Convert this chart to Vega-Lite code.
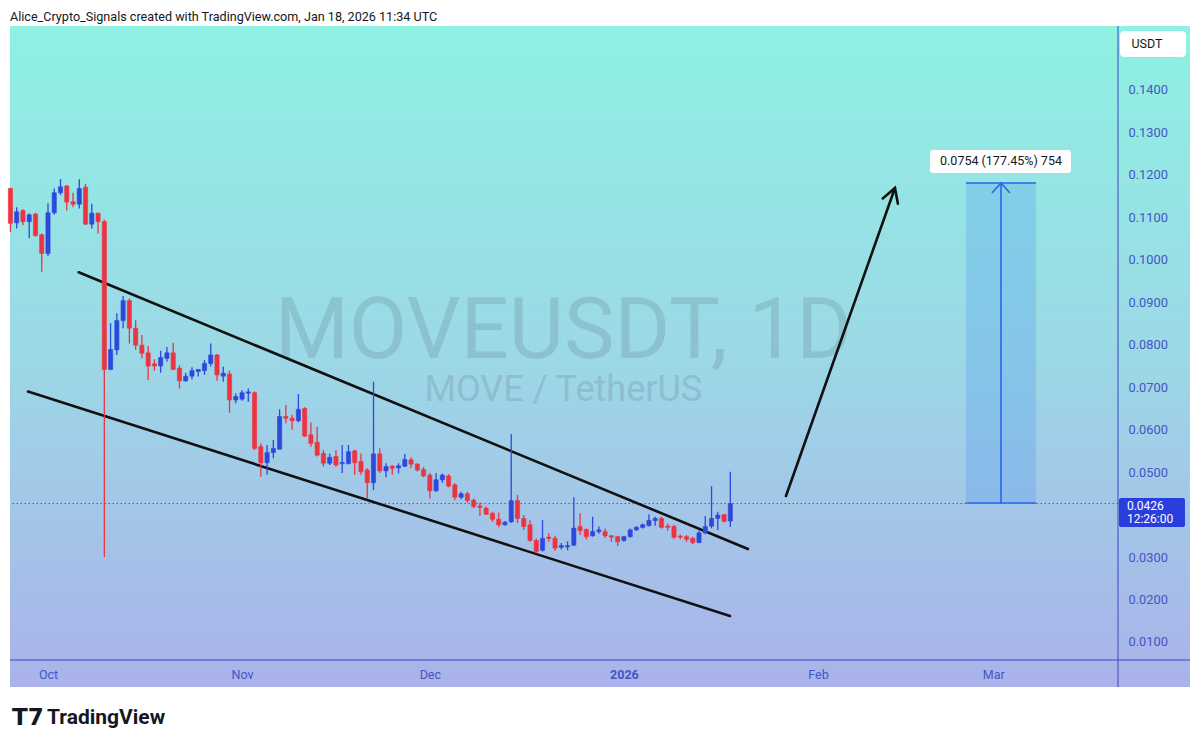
{
"$schema": "https://vega.github.io/schema/vega-lite/v6.json",
"width": 1108, "height": 634,
"autosize": {"type": "none"},
"padding": {"left": 10, "top": 26, "right": 82, "bottom": 87},
"background": "#ffffff",
"config": {"view": {"stroke": null}, "font": "Roboto"},
"datasets": {
"bg": [{"x1": "2025-09-24T22:20:00Z", "x2": "2026-04-01T10:20:00Z", "y1": 0.15507, "y2": -0.0006}],
"wm": [
 {"t": "2025-12-22T08:00:00Z", "p": 0.08300, "txt": "MOVEUSDT, 1D", "k": "a"},
 {"t": "2025-12-22T08:00:00Z", "p": 0.0694, "txt": "MOVE / TetherUS", "k": "b"}
],
"last": [{"p": 0.0426}],
"measbox": [{"x1": "2026-02-24T15:35:00Z", "x2": "2026-03-07T19:55:00Z", "y1": 0.1181, "y2": 0.04273}],
"measlines": [
 {"g": "top", "i": 0, "t": "2026-02-24T15:35:00Z", "p": 0.1181},
 {"g": "top", "i": 1, "t": "2026-03-07T19:55:00Z", "p": 0.1181},
 {"g": "bot", "i": 0, "t": "2026-02-24T15:35:00Z", "p": 0.04273},
 {"g": "bot", "i": 1, "t": "2026-03-07T19:55:00Z", "p": 0.04273},
 {"g": "vert", "i": 0, "t": "2026-03-02T05:45:00Z", "p": 0.04273},
 {"g": "vert", "i": 1, "t": "2026-03-02T05:45:00Z", "p": 0.1181},
 {"g": "head", "i": 0, "t": "2026-02-28T19:10:00Z", "p": 0.11574},
 {"g": "head", "i": 1, "t": "2026-03-02T05:45:00Z", "p": 0.1181},
 {"g": "head", "i": 2, "t": "2026-03-03T16:05:00Z", "p": 0.11574}
],
"measlabel": [{"x1": "2026-02-18T21:20:00Z", "x2": "2026-03-13T10:05:00Z", "y1": 0.12587, "y2": 0.12045, "t": "2026-03-02T05:45:00Z", "p": 0.12316, "txt": "0.0754 (177.45%) 754"}],
"drawings": [
 {"g": "upper", "i": 0, "t": "2025-10-05T21:40:00Z", "p": 0.09707},
 {"g": "upper", "i": 1, "t": "2026-01-20T19:40:00Z", "p": 0.0319},
 {"g": "lower", "i": 0, "t": "2025-09-27T19:25:00Z", "p": 0.06899},
 {"g": "lower", "i": 1, "t": "2026-01-17T22:50:00Z", "p": 0.01612},
 {"g": "arrow", "i": 0, "t": "2026-01-26T21:20:00Z", "p": 0.04438},
 {"g": "arrow", "i": 1, "t": "2026-02-13T07:10:00Z", "p": 0.11692},
 {"g": "arrowhead", "i": 0, "t": "2026-02-11T08:25:00Z", "p": 0.11447},
 {"g": "arrowhead", "i": 1, "t": "2026-02-13T07:10:00Z", "p": 0.11692},
 {"g": "arrowhead", "i": 2, "t": "2026-02-13T18:30:00Z", "p": 0.11322}
],
"candles": [
{"t":"2025-09-25","o":0.1168,"h":0.1170,"l":0.1066,"c":0.1086},
{"t":"2025-09-26","o":0.1087,"h":0.1124,"l":0.1074,"c":0.1113},
{"t":"2025-09-27","o":0.1116,"h":0.1119,"l":0.1082,"c":0.1090},
{"t":"2025-09-28","o":0.1090,"h":0.1110,"l":0.1051,"c":0.1106},
{"t":"2025-09-29","o":0.1108,"h":0.1111,"l":0.1055,"c":0.1057},
{"t":"2025-09-30","o":0.1059,"h":0.1062,"l":0.0972,"c":0.1015},
{"t":"2025-10-01","o":0.1015,"h":0.1133,"l":0.1009,"c":0.1111},
{"t":"2025-10-02","o":0.1111,"h":0.1168,"l":0.1106,"c":0.1158},
{"t":"2025-10-03","o":0.1158,"h":0.1190,"l":0.1153,"c":0.1172},
{"t":"2025-10-04","o":0.1174,"h":0.1176,"l":0.1116,"c":0.1136},
{"t":"2025-10-05","o":0.1137,"h":0.1158,"l":0.1124,"c":0.1131},
{"t":"2025-10-06","o":0.1131,"h":0.1190,"l":0.1121,"c":0.1168},
{"t":"2025-10-07","o":0.1171,"h":0.1179,"l":0.1082,"c":0.1084},
{"t":"2025-10-08","o":0.1084,"h":0.1132,"l":0.1074,"c":0.1110},
{"t":"2025-10-09","o":0.1110,"h":0.1111,"l":0.1062,"c":0.1090},
{"t":"2025-10-10","o":0.1090,"h":0.1095,"l":0.0300,"c":0.0742},
{"t":"2025-10-11","o":0.0742,"h":0.0851,"l":0.0740,"c":0.0789},
{"t":"2025-10-12","o":0.0788,"h":0.0874,"l":0.0776,"c":0.0857},
{"t":"2025-10-13","o":0.0857,"h":0.0915,"l":0.0839,"c":0.0904},
{"t":"2025-10-14","o":0.0904,"h":0.0909,"l":0.0803,"c":0.0839},
{"t":"2025-10-15","o":0.0839,"h":0.0858,"l":0.0788,"c":0.0799},
{"t":"2025-10-16","o":0.0799,"h":0.0823,"l":0.0768,"c":0.0780},
{"t":"2025-10-17","o":0.0781,"h":0.0797,"l":0.0717,"c":0.0750},
{"t":"2025-10-18","o":0.0755,"h":0.0766,"l":0.0739,"c":0.0750},
{"t":"2025-10-19","o":0.0750,"h":0.0786,"l":0.0734,"c":0.0770},
{"t":"2025-10-20","o":0.0768,"h":0.0795,"l":0.0760,"c":0.0781},
{"t":"2025-10-21","o":0.0781,"h":0.0805,"l":0.0740,"c":0.0742},
{"t":"2025-10-22","o":0.0745,"h":0.0752,"l":0.0697,"c":0.0715},
{"t":"2025-10-23","o":0.0715,"h":0.0734,"l":0.0713,"c":0.0726},
{"t":"2025-10-24","o":0.0726,"h":0.0747,"l":0.0719,"c":0.0739},
{"t":"2025-10-25","o":0.0737,"h":0.0742,"l":0.0725,"c":0.0742},
{"t":"2025-10-26","o":0.0739,"h":0.0764,"l":0.0729,"c":0.0756},
{"t":"2025-10-27","o":0.0756,"h":0.0803,"l":0.0749,"c":0.0776},
{"t":"2025-10-28","o":0.0776,"h":0.0778,"l":0.0715,"c":0.0729},
{"t":"2025-10-29","o":0.0726,"h":0.0748,"l":0.0713,"c":0.0733},
{"t":"2025-10-30","o":0.0731,"h":0.0739,"l":0.0640,"c":0.0670},
{"t":"2025-10-31","o":0.0670,"h":0.0686,"l":0.0662,"c":0.0678},
{"t":"2025-11-01","o":0.0672,"h":0.0693,"l":0.0668,"c":0.0687},
{"t":"2025-11-02","o":0.0686,"h":0.0697,"l":0.0666,"c":0.0689},
{"t":"2025-11-03","o":0.0687,"h":0.0690,"l":0.0552,"c":0.0556},
{"t":"2025-11-04","o":0.0560,"h":0.0568,"l":0.0489,"c":0.0522},
{"t":"2025-11-05","o":0.0522,"h":0.0564,"l":0.0494,"c":0.0546},
{"t":"2025-11-06","o":0.0546,"h":0.0576,"l":0.0533,"c":0.0556},
{"t":"2025-11-07","o":0.0554,"h":0.0648,"l":0.0554,"c":0.0631},
{"t":"2025-11-08","o":0.0631,"h":0.0658,"l":0.0615,"c":0.0627},
{"t":"2025-11-09","o":0.0627,"h":0.0635,"l":0.0600,"c":0.0621},
{"t":"2025-11-10","o":0.0621,"h":0.0684,"l":0.0617,"c":0.0648},
{"t":"2025-11-11","o":0.0650,"h":0.0653,"l":0.0583,"c":0.0585},
{"t":"2025-11-12","o":0.0588,"h":0.0617,"l":0.0560,"c":0.0568},
{"t":"2025-11-13","o":0.0570,"h":0.0607,"l":0.0537,"c":0.0540},
{"t":"2025-11-14","o":0.0544,"h":0.0552,"l":0.0513,"c":0.0521},
{"t":"2025-11-15","o":0.0521,"h":0.0544,"l":0.0517,"c":0.0535},
{"t":"2025-11-16","o":0.0537,"h":0.0552,"l":0.0513,"c":0.0517},
{"t":"2025-11-17","o":0.0520,"h":0.0564,"l":0.0498,"c":0.0523},
{"t":"2025-11-18","o":0.0520,"h":0.0564,"l":0.0518,"c":0.0548},
{"t":"2025-11-19","o":0.0550,"h":0.0553,"l":0.0494,"c":0.0522},
{"t":"2025-11-20","o":0.0525,"h":0.0544,"l":0.0494,"c":0.0501},
{"t":"2025-11-21","o":0.0505,"h":0.0509,"l":0.0438,"c":0.0475},
{"t":"2025-11-22","o":0.0475,"h":0.0713,"l":0.0458,"c":0.0543},
{"t":"2025-11-23","o":0.0543,"h":0.0556,"l":0.0498,"c":0.0503},
{"t":"2025-11-24","o":0.0503,"h":0.0521,"l":0.0488,"c":0.0513},
{"t":"2025-11-25","o":0.0514,"h":0.0517,"l":0.0494,"c":0.0509},
{"t":"2025-11-26","o":0.0510,"h":0.0521,"l":0.0497,"c":0.0515},
{"t":"2025-11-27","o":0.0514,"h":0.0543,"l":0.0512,"c":0.0530},
{"t":"2025-11-28","o":0.0529,"h":0.0535,"l":0.0509,"c":0.0519},
{"t":"2025-11-29","o":0.0519,"h":0.0521,"l":0.0501,"c":0.0505},
{"t":"2025-11-30","o":0.0506,"h":0.0512,"l":0.0488,"c":0.0491},
{"t":"2025-12-01","o":0.0493,"h":0.0498,"l":0.0438,"c":0.0456},
{"t":"2025-12-02","o":0.0456,"h":0.0498,"l":0.0454,"c":0.0482},
{"t":"2025-12-03","o":0.0482,"h":0.0497,"l":0.0475,"c":0.0493},
{"t":"2025-12-04","o":0.0491,"h":0.0495,"l":0.0464,"c":0.0467},
{"t":"2025-12-05","o":0.0470,"h":0.0474,"l":0.0434,"c":0.0441},
{"t":"2025-12-06","o":0.0441,"h":0.0454,"l":0.0436,"c":0.0449},
{"t":"2025-12-07","o":0.0449,"h":0.0454,"l":0.0428,"c":0.0433},
{"t":"2025-12-08","o":0.0434,"h":0.0438,"l":0.0415,"c":0.0419},
{"t":"2025-12-09","o":0.0420,"h":0.0428,"l":0.0397,"c":0.0417},
{"t":"2025-12-10","o":0.0415,"h":0.0419,"l":0.0399,"c":0.0401},
{"t":"2025-12-11","o":0.0403,"h":0.0407,"l":0.0383,"c":0.0389},
{"t":"2025-12-12","o":0.0389,"h":0.0405,"l":0.0370,"c":0.0376},
{"t":"2025-12-13","o":0.0376,"h":0.0385,"l":0.0374,"c":0.0382},
{"t":"2025-12-14","o":0.0383,"h":0.0590,"l":0.0380,"c":0.0433},
{"t":"2025-12-15","o":0.0433,"h":0.0446,"l":0.0380,"c":0.0391},
{"t":"2025-12-16","o":0.0391,"h":0.0399,"l":0.0364,"c":0.0372},
{"t":"2025-12-17","o":0.0376,"h":0.0387,"l":0.0336,"c":0.0339},
{"t":"2025-12-18","o":0.0339,"h":0.0344,"l":0.0309,"c":0.0313},
{"t":"2025-12-19","o":0.0316,"h":0.0387,"l":0.0313,"c":0.0344},
{"t":"2025-12-20","o":0.0347,"h":0.0356,"l":0.0336,"c":0.0344},
{"t":"2025-12-21","o":0.0344,"h":0.0350,"l":0.0315,"c":0.0321},
{"t":"2025-12-22","o":0.0323,"h":0.0333,"l":0.0318,"c":0.0327},
{"t":"2025-12-23","o":0.0324,"h":0.0337,"l":0.0316,"c":0.0327},
{"t":"2025-12-24","o":0.0328,"h":0.0441,"l":0.0326,"c":0.0368},
{"t":"2025-12-25","o":0.0372,"h":0.0403,"l":0.0352,"c":0.0362},
{"t":"2025-12-26","o":0.0365,"h":0.0367,"l":0.0342,"c":0.0348},
{"t":"2025-12-27","o":0.0350,"h":0.0395,"l":0.0348,"c":0.0360},
{"t":"2025-12-28","o":0.0360,"h":0.0372,"l":0.0355,"c":0.0364},
{"t":"2025-12-29","o":0.0360,"h":0.0367,"l":0.0345,"c":0.0350},
{"t":"2025-12-30","o":0.0350,"h":0.0352,"l":0.0336,"c":0.0347},
{"t":"2025-12-31","o":0.0348,"h":0.0350,"l":0.0326,"c":0.0336},
{"t":"2026-01-01","o":0.0339,"h":0.0350,"l":0.0336,"c":0.0348},
{"t":"2026-01-02","o":0.0348,"h":0.0367,"l":0.0346,"c":0.0364},
{"t":"2026-01-03","o":0.0364,"h":0.0373,"l":0.0362,"c":0.0370},
{"t":"2026-01-04","o":0.0370,"h":0.0379,"l":0.0367,"c":0.0376},
{"t":"2026-01-05","o":0.0374,"h":0.0401,"l":0.0372,"c":0.0386},
{"t":"2026-01-06","o":0.0386,"h":0.0395,"l":0.0374,"c":0.0391},
{"t":"2026-01-07","o":0.0391,"h":0.0395,"l":0.0367,"c":0.0370},
{"t":"2026-01-08","o":0.0373,"h":0.0379,"l":0.0362,"c":0.0370},
{"t":"2026-01-09","o":0.0372,"h":0.0376,"l":0.0342,"c":0.0347},
{"t":"2026-01-10","o":0.0349,"h":0.0353,"l":0.0342,"c":0.0347},
{"t":"2026-01-11","o":0.0348,"h":0.0352,"l":0.0336,"c":0.0342},
{"t":"2026-01-12","o":0.0344,"h":0.0348,"l":0.0331,"c":0.0334},
{"t":"2026-01-13","o":0.0334,"h":0.0362,"l":0.0333,"c":0.0357},
{"t":"2026-01-14","o":0.0357,"h":0.0397,"l":0.0354,"c":0.0372},
{"t":"2026-01-15","o":0.0373,"h":0.0467,"l":0.0368,"c":0.0391},
{"t":"2026-01-16","o":0.0391,"h":0.0407,"l":0.0364,"c":0.0399},
{"t":"2026-01-17","o":0.0400,"h":0.0401,"l":0.0382,"c":0.0384},
{"t":"2026-01-18","o":0.0385,"h":0.0501,"l":0.0371,"c":0.0426}
],
"seps": [
 {"g": "v", "x1": "2026-03-20T22:20:00Z", "x2": "2026-03-20T22:20:00Z", "y1": 0.15507, "y2": -0.0006},
 {"g": "h", "x1": "2025-09-24T22:20:00Z", "x2": "2026-04-01T10:20:00Z", "y1": 0.00576, "y2": 0.00576}
],
"usdt": [{"x1": "2026-03-21T06:00:00Z", "x2": "2026-03-31T19:00:00Z", "y1": 0.1539, "y2": 0.14777, "t": "2026-03-25T13:30:00Z", "p": 0.15083, "txt": "USDT"}],
"pricebox": [{"x1": "2026-03-21T02:10:00Z", "x2": "2026-03-31T15:10:00Z", "y1": 0.04391, "y2": 0.03708}],
"pricetext": [
 {"t": "2026-03-22T08:40:00Z", "p": 0.04203, "txt": "0.0426"},
 {"t": "2026-03-22T08:40:00Z", "p": 0.03885, "txt": "12:26:00"}
],
"header": [{"t": "2025-09-24T22:20:00Z", "p": 0.15719, "txt": "Alice_Crypto_Signals created with TradingView.com, Jan 18, 2026 11:34 UTC"}],
"logo": [{"t": "2025-09-25T06:00:00Z", "p": -0.0079, "txt": "T7"}],
"brand": [{"t": "2025-09-30T20:10:00Z", "p": -0.0079, "txt": "TradingView"}]
},
"layer": [
{"data": {"name": "bg"},
 "mark": {"type": "rect", "color": {"gradient": "linear", "x1": 0, "y1": 0, "x2": 0, "y2": 1, "stops": [{"offset": 0, "color": "#8ef1e2"}, {"offset": 0.5, "color": "#9cd8e6"}, {"offset": 1, "color": "#abb2ea"}]}},
 "encoding": {
  "x": {"field": "x1", "type": "temporal",
   "scale": {"type": "utc", "padding": 0, "domain": [{"year": 2025, "month": 9, "date": 24, "hours": 22, "minutes": 20, "utc": true}, {"year": 2026, "month": 3, "date": 20, "hours": 22, "minutes": 20, "utc": true}]},
   "axis": {"orient": "bottom", "title": null, "zindex": 2, "domain": false, "ticks": false, "grid": false, "labelPadding": 8, "labelFontSize": 12.5, "labelColor": "#4455c4", "labelFont": "Roboto",
    "values": [{"year": 2025, "month": 10, "date": 1, "utc": true}, {"year": 2025, "month": 11, "date": 1, "utc": true}, {"year": 2025, "month": 12, "date": 1, "utc": true}, {"year": 2026, "month": 1, "date": 1, "utc": true}, {"year": 2026, "month": 2, "date": 1, "utc": true}, {"year": 2026, "month": 3, "date": 1, "utc": true}],
    "labelExpr": "utcmonth(datum.value) == 0 ? utcFormat(datum.value, '%Y') : utcFormat(datum.value, '%b')",
    "labelFontWeight": {"condition": {"test": "utcmonth(datum.value) == 0", "value": "bold"}, "value": "normal"}}},
  "x2": {"field": "x2"},
  "y": {"field": "y1", "type": "quantitative",
   "scale": {"domain": [0.00576, 0.15507], "zero": false, "nice": false, "padding": 0},
   "axis": {"orient": "right", "title": null, "zindex": 2, "domain": false, "ticks": false, "grid": false, "labelPadding": 10, "labelFontSize": 12.8, "labelColor": "#4455c4", "labelFont": "Roboto", "format": ".4f",
    "values": [0.01, 0.02, 0.03, 0.05, 0.06, 0.07, 0.08, 0.09, 0.10, 0.11, 0.12, 0.13, 0.14]}},
  "y2": {"field": "y2"}
 }},
{"data": {"name": "wm"},
 "mark": {"type": "text", "align": "center", "baseline": "middle", "font": "Roboto", "color": "#55677a", "opacity": 0.2},
 "encoding": {"x": {"field": "t", "type": "temporal"}, "y": {"field": "p", "type": "quantitative"}, "text": {"field": "txt"},
  "size": {"field": "k", "type": "nominal", "scale": {"domain": ["a", "b"], "range": [85, 36]}, "legend": null}}},
{"data": {"name": "last"},
 "mark": {"type": "rule", "color": "#3550d8", "strokeWidth": 1, "strokeDash": [1.5, 2.5]},
 "encoding": {"y": {"field": "p", "type": "quantitative"}}},
{"data": {"name": "measbox"},
 "mark": {"type": "rect", "color": "#3c8cf0", "opacity": 0.23},
 "encoding": {"x": {"field": "x1", "type": "temporal"}, "x2": {"field": "x2"}, "y": {"field": "y1", "type": "quantitative"}, "y2": {"field": "y2"}}},
{"data": {"name": "measlines"},
 "mark": {"type": "line", "color": "#2a66e8", "strokeWidth": 1.6},
 "encoding": {"x": {"field": "t", "type": "temporal"}, "y": {"field": "p", "type": "quantitative"}, "detail": {"field": "g"}, "order": {"field": "i"}}},
{"data": {"name": "measlabel"},
 "mark": {"type": "rect", "color": "#ffffff", "cornerRadius": 3},
 "encoding": {"x": {"field": "x1", "type": "temporal"}, "x2": {"field": "x2"}, "y": {"field": "y1", "type": "quantitative"}, "y2": {"field": "y2"}}},
{"data": {"name": "measlabel"},
 "mark": {"type": "text", "align": "center", "baseline": "middle", "fontSize": 12.5, "font": "Roboto", "color": "#131722"},
 "encoding": {"x": {"field": "t", "type": "temporal"}, "y": {"field": "p", "type": "quantitative"}, "text": {"field": "txt"}}},
{"data": {"name": "drawings"},
 "mark": {"type": "line", "color": "#111111", "strokeWidth": 2.6, "strokeCap": "round"},
 "encoding": {"x": {"field": "t", "type": "temporal"}, "y": {"field": "p", "type": "quantitative"}, "detail": {"field": "g"}, "order": {"field": "i"}}},
{"data": {"name": "candles"},
 "mark": {"type": "rule", "strokeWidth": 1.3},
 "encoding": {"x": {"field": "t", "type": "temporal"}, "y": {"field": "l", "type": "quantitative"}, "y2": {"field": "h"},
  "color": {"condition": {"test": "datum.c >= datum.o", "value": "#2d48dc"}, "value": "#ee3340"}}},
{"data": {"name": "candles"},
 "mark": {"type": "bar", "size": 4.2, "strokeWidth": 0.6},
 "encoding": {"x": {"field": "t", "type": "temporal"}, "y": {"field": "o", "type": "quantitative"}, "y2": {"field": "c"},
  "color": {"condition": {"test": "datum.c >= datum.o", "value": "#2d48dc"}, "value": "#ee3340"},
  "stroke": {"condition": {"test": "datum.c >= datum.o", "value": "#2d48dc"}, "value": "#ee3340"}}},
{"data": {"name": "seps"},
 "mark": {"type": "rule", "color": "#3a46c6", "strokeWidth": 1},
 "encoding": {"x": {"field": "x1", "type": "temporal"}, "x2": {"field": "x2"}, "y": {"field": "y1", "type": "quantitative"}, "y2": {"field": "y2"}, "detail": {"field": "g"}}},
{"data": {"name": "usdt"},
 "mark": {"type": "rect", "color": "#ffffff", "cornerRadius": 4},
 "encoding": {"x": {"field": "x1", "type": "temporal"}, "x2": {"field": "x2"}, "y": {"field": "y1", "type": "quantitative"}, "y2": {"field": "y2"}}},
{"data": {"name": "usdt"},
 "mark": {"type": "text", "align": "center", "baseline": "middle", "fontSize": 12.5, "font": "Roboto", "color": "#131722"},
 "encoding": {"x": {"field": "t", "type": "temporal"}, "y": {"field": "p", "type": "quantitative"}, "text": {"field": "txt"}}},
{"data": {"name": "pricebox"},
 "mark": {"type": "rect", "color": "#2a3ede", "cornerRadius": 2},
 "encoding": {"x": {"field": "x1", "type": "temporal"}, "x2": {"field": "x2"}, "y": {"field": "y1", "type": "quantitative"}, "y2": {"field": "y2"}}},
{"data": {"name": "pricetext"},
 "mark": {"type": "text", "align": "left", "baseline": "middle", "fontSize": 12, "font": "Roboto", "color": "#ffffff"},
 "encoding": {"x": {"field": "t", "type": "temporal"}, "y": {"field": "p", "type": "quantitative"}, "text": {"field": "txt"}}},
{"data": {"name": "header"},
 "mark": {"type": "text", "align": "left", "baseline": "middle", "fontSize": 12.6, "font": "Roboto", "color": "#131722"},
 "encoding": {"x": {"field": "t", "type": "temporal"}, "y": {"field": "p", "type": "quantitative"}, "text": {"field": "txt"}}},
{"data": {"name": "logo"},
 "mark": {"type": "text", "align": "left", "baseline": "middle", "fontSize": 23, "font": "DejaVu Sans", "fontWeight": "bold", "color": "#131722", "letterSpacing": -2},
 "encoding": {"x": {"field": "t", "type": "temporal"}, "y": {"field": "p", "type": "quantitative"}, "text": {"field": "txt"}}},
{"data": {"name": "brand"},
 "mark": {"type": "text", "align": "left", "baseline": "middle", "fontSize": 21, "font": "Roboto", "fontWeight": "bold", "color": "#131722"},
 "encoding": {"x": {"field": "t", "type": "temporal"}, "y": {"field": "p", "type": "quantitative"}, "text": {"field": "txt"}}}
]
}
